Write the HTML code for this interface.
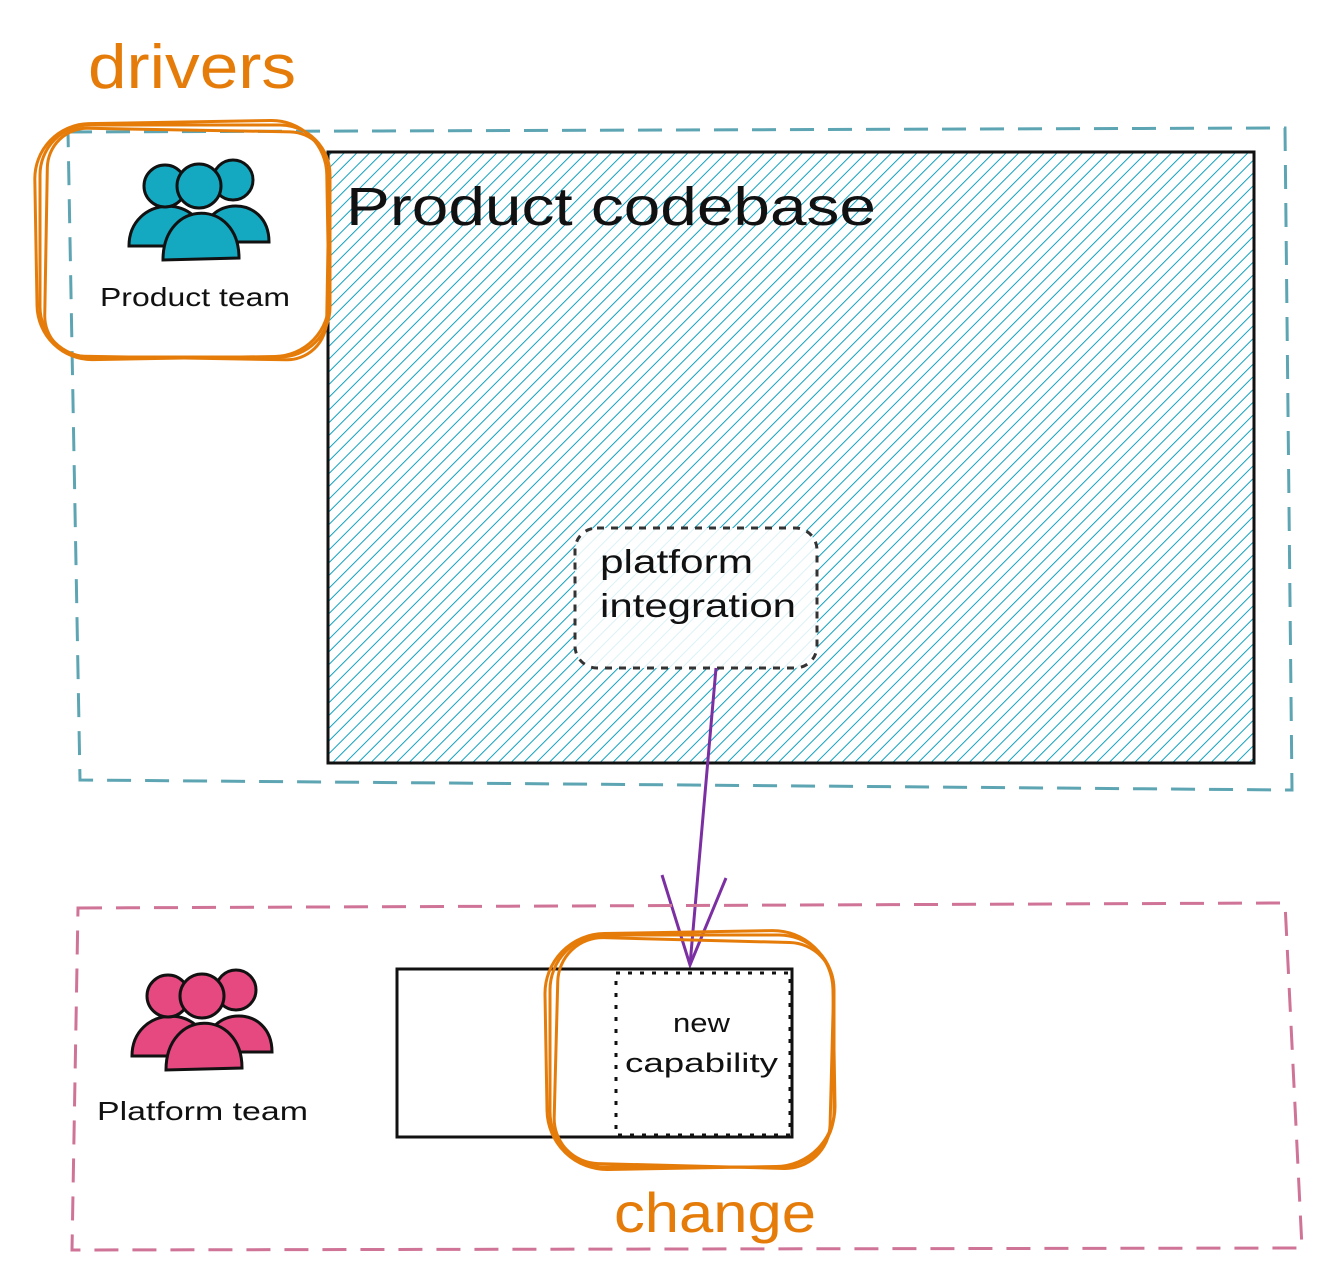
<!DOCTYPE html>
<html><head><meta charset="utf-8"><style>
html,body{margin:0;padding:0;background:#fff;width:1327px;height:1284px;overflow:hidden}
svg{display:block}
text{font-family:"Liberation Sans",sans-serif}
</style></head><body>
<svg width="1327" height="1284" viewBox="0 0 1327 1284" xmlns="http://www.w3.org/2000/svg">
<defs>
<pattern id="h" patternUnits="userSpaceOnUse" width="9" height="9" patternTransform="rotate(45)">
<line x1="0" y1="0" x2="0" y2="9" stroke="#12a2bf" stroke-width="2"/>
</pattern>
<g id="ppl">
<path d="M2,88 C2,38 76,32 80,88 Z" />
<path d="M74,84 C76,36 142,36 142,84 Z" />
<circle cx="38" cy="28" r="21"/>
<circle cx="106" cy="22" r="20"/>
<path d="M36,102 C36,40 112,40 112,100 Z" />
<circle cx="72" cy="28" r="22"/>
</g>
</defs>
<path d="M68,132 L1285,128 L1292,790 L80,780 Z" fill="none" stroke="#5ea5b3" stroke-width="3" stroke-dasharray="24,14"/>
<rect x="328" y="152" width="926" height="611" fill="url(#h)" stroke="#111" stroke-width="3"/>
<text x="346" y="225" font-size="54" fill="#111" textLength="530" lengthAdjust="spacingAndGlyphs">Product codebase</text>
<rect x="575" y="528" width="242" height="140" rx="22" fill="#fff" fill-opacity="0.85" stroke="#333" stroke-width="3" stroke-dasharray="7,7"/>
<text x="600" y="573" font-size="33" fill="#111" textLength="153" lengthAdjust="spacingAndGlyphs">platform</text>
<text x="600" y="617" font-size="33" fill="#111" textLength="196" lengthAdjust="spacingAndGlyphs">integration</text>
<path d="M716,668 L690,965" stroke="#7b2fa3" stroke-width="3" fill="none"/>
<path d="M662,875 L690,965 L726,878" stroke="#7b2fa3" stroke-width="3" fill="none"/>
<g fill="#15a9c1" stroke="#111" stroke-width="3" transform="translate(127,158)"><use href="#ppl"/></g>
<text x="100" y="306" font-size="26" fill="#111" textLength="190" lengthAdjust="spacingAndGlyphs">Product team</text>
<g fill="none" stroke="#e57c0a" stroke-width="3">
<rect x="40" y="125" width="290" height="232" rx="50"/>
<rect x="46" y="130" width="282" height="228" rx="40" transform="rotate(1 185 245)"/>
<rect x="36" y="122" width="292" height="236" rx="55" transform="rotate(-1 185 245)"/>
</g>
<text x="88" y="88" font-size="62" fill="#e57c0a" textLength="208" lengthAdjust="spacingAndGlyphs">drivers</text>
<path d="M78,908 L1285,903 L1302,1248 L72,1250 Z" fill="none" stroke="#cf7397" stroke-width="3" stroke-dasharray="24,14"/>
<g fill="#e64880" stroke="#111" stroke-width="3" transform="translate(130,968)"><use href="#ppl"/></g>
<text x="97" y="1120" font-size="26" fill="#111" textLength="211" lengthAdjust="spacingAndGlyphs">Platform team</text>
<rect x="397" y="969" width="395" height="168" fill="#fff" stroke="#111" stroke-width="3"/>
<rect x="616" y="973" width="174" height="162" fill="none" stroke="#111" stroke-width="3" stroke-dasharray="4,8"/>
<text x="673" y="1032" font-size="27" fill="#111" textLength="57" lengthAdjust="spacingAndGlyphs">new</text>
<text x="625" y="1072" font-size="27" fill="#111" textLength="153" lengthAdjust="spacingAndGlyphs">capability</text>
<g fill="none" stroke="#e57c0a" stroke-width="3">
<rect x="550" y="935" width="284" height="232" rx="55"/>
<rect x="556" y="940" width="276" height="226" rx="45" transform="rotate(1.5 692 1050)"/>
<rect x="546" y="932" width="288" height="236" rx="60" transform="rotate(-1 692 1050)"/>
</g>
<text x="614" y="1232" font-size="56" fill="#e57c0a" textLength="202" lengthAdjust="spacingAndGlyphs">change</text>
</svg>
</body></html>
